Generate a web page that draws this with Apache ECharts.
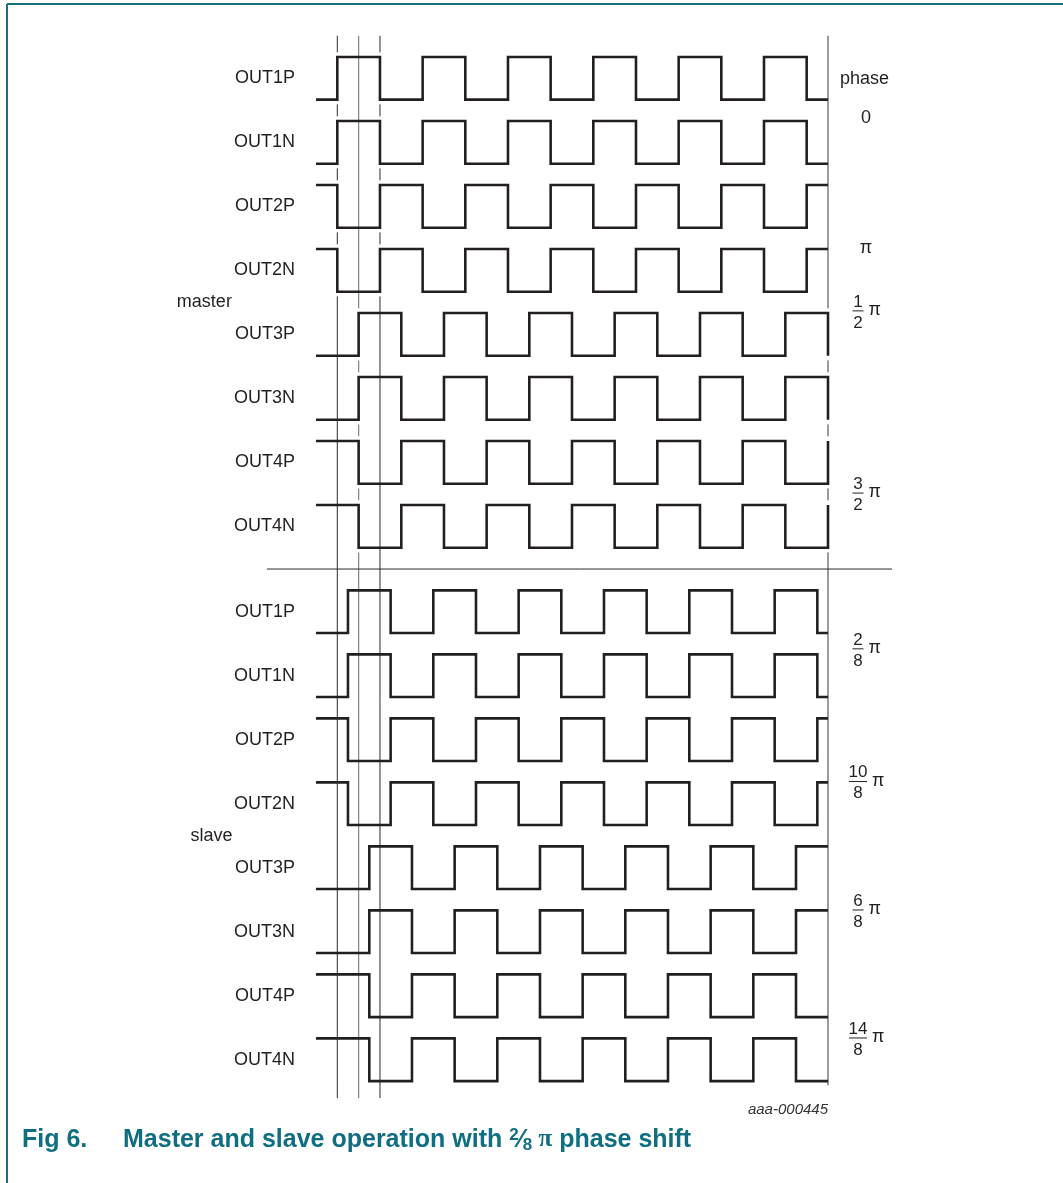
<!DOCTYPE html>
<html>
<head>
<meta charset="utf-8">
<script src="https://cdn.jsdelivr.net/npm/echarts@6/dist/echarts.min.js"></script>
<style>
  html, body { margin: 0; padding: 0; background: #fff; }
  #chart { width: 1063px; height: 1183px; }
</style>
</head>
<body>
<div id="chart"></div>
<script>
// nombres de las salidas (igual en master y slave)
const nombres = ['OUT1P', 'OUT1N', 'OUT2P', 'OUT2N', 'OUT3P', 'OUT3N', 'OUT4P', 'OUT4N'];

// nivel inicial de cada salida (0 = bajo, 1 = alto)
const inicioMaster = [0, 0, 1, 1, 0, 0, 1, 1];
const inicioSlave = [0, 0, 1, 1, 0, 0, 1, 1];

// instantes de los flancos (en medios periodos)
const flancos0 = [0, 1, 2, 3, 4, 5, 6, 7, 8, 9, 10, 11];
const flancos05 = [0.5, 1.5, 2.5, 3.5, 4.5, 5.5, 6.5, 7.5, 8.5, 9.5, 10.5, 11.5];
const flancos025 = [0.25, 1.25, 2.25, 3.25, 4.25, 5.25, 6.25, 7.25, 8.25, 9.25, 10.25, 11.25];
const flancos075 = [0.75, 1.75, 2.75, 3.75, 4.75, 5.75, 6.75, 7.75, 8.75, 9.75, 10.75];

const flancosMaster = [flancos0, flancos0, flancos0, flancos0, flancos05, flancos05, flancos05, flancos05];
const flancosSlave = [flancos025, flancos025, flancos025, flancos025, flancos075, flancos075, flancos075, flancos075];

const tInicio = -0.5;
const tFin = 11.5;

// lineas verticales de referencia
const guias = [0, 0.5, 1];

// etiquetas de fase a la derecha
const fasesTexto = ['phase', '0', 'π'];
const fasesFraccion = [['1', '2'], ['3', '2'], ['2', '8'], ['10', '8'], ['6', '8'], ['14', '8']];

// ---- layout ----
const UNIDAD = 42.67;
const X0 = 337.3;   // pixel de t = 0
const Y1 = 57;      // pixel de nivel 1 de la primera fila
const PASO = 1.5;   // separacion entre filas
const SLAVE_OFF = 12.5;

const posFasesTexto = [0.48, -0.43, -3.48];
const posFasesFraccion = [-4.95, -9.22, -12.87, -15.98, -18.99, -21.99];

const chartDom = document.getElementById('chart');
const myChart = echarts.init(chartDom);

const xMin = -2, xMax = 13, yMin = -24, yMax = 1.5;

// construir filas
const filas = [];
nombres.forEach((n, i) => {
    filas.push({ nombre: n, base: -PASO * i, inicio: inicioMaster[i], flancos: flancosMaster[i] });
});
nombres.forEach((n, i) => {
    filas.push({ nombre: n, base: -SLAVE_OFF - PASO * i, inicio: inicioSlave[i], flancos: flancosSlave[i] });
});

function ondaDatos(fila) {
    let nivel = fila.inicio;
    const datos = [[tInicio, fila.base + nivel]];
    fila.flancos.forEach(t => {
        datos.push([t, fila.base + nivel]);
        nivel = 1 - nivel;
        datos.push([t, fila.base + nivel]);
    });
    datos.push([tFin, fila.base + nivel]);
    return datos;
}

// segmentos de una guia, cortada donde coincide con un flanco
function segmentosGuia(t, arriba, abajo) {
    const huecos = [];
    filas.forEach(f => {
        if (f.flancos.indexOf(t) >= 0) {
            huecos.push([f.base + 1 + 0.11, f.base - 0.11]);
        }
    });
    const segs = [];
    let actual = arriba;
    huecos.forEach(h => {
        if (h[0] < actual) {
            segs.push([actual, h[0]]);
        }
        actual = Math.min(actual, h[1]);
    });
    segs.push([actual, abajo]);
    return segs;
}

const series = [];

// guias
const estilosGuia = [
    { color: '#2a2a2a', width: 1 },
    { color: '#8a8a8a', width: 1.3 },
    { color: '#2a2a2a', width: 1 }
];
guias.forEach((g, i) => {
    segmentosGuia(g, yMax, -23.4).forEach(s => {
        series.push({
            type: 'line', symbol: 'none', silent: true, z: 1,
            lineStyle: estilosGuia[i],
            data: [[g, s[0]], [g, s[1]]]
        });
    });
});
segmentosGuia(tFin, yMax, -23.1).forEach(s => {
    series.push({
        type: 'line', symbol: 'none', silent: true, z: 1,
        lineStyle: { color: '#3a3a3a', width: 1 },
        data: [[tFin, s[0]], [tFin, s[1]]]
    });
});

// separador master / slave
series.push({
    type: 'line', symbol: 'none', silent: true, z: 1,
    lineStyle: { color: '#2a2a2a', width: 1 },
    data: [[-1.65, -11], [xMax, -11]]
});

// ondas
filas.forEach(f => {
    series.push({
        type: 'line', symbol: 'none', z: 3,
        lineStyle: { color: '#231f20', width: 2.6, join: 'miter', cap: 'butt' },
        data: ondaDatos(f)
    });
});

const option = {
    animation: false,
    grid: {
        left: X0 + xMin * UNIDAD,
        width: (xMax - xMin) * UNIDAD,
        top: Y1 - (yMax - 1) * UNIDAD,
        height: (yMax - yMin) * UNIDAD
    },
    xAxis: { type: 'value', min: xMin, max: xMax, show: false },
    yAxis: { type: 'value', min: yMin, max: yMax, show: false },
    series: series
};

myChart.setOption(option);

// textos y elementos graficos
const px = (t, v) => myChart.convertToPixel({ gridIndex: 0 }, [t, v]);
const graficos = [];
const fuente = 'Liberation Sans';
const tinta = '#231f20';
const xDer = px(tFin, 0)[0];

// marco
graficos.push({ type: 'line', shape: { x1: 7, y1: 4, x2: 1063, y2: 4 }, style: { stroke: '#16707f', lineWidth: 2 } });
graficos.push({ type: 'line', shape: { x1: 7, y1: 4, x2: 7, y2: 1183 }, style: { stroke: '#16707f', lineWidth: 2 } });

// nombres de las salidas
filas.forEach(f => {
    const p = px(tInicio, f.base + 0.5);
    graficos.push({
        type: 'text', x: p[0] - 21, y: p[1],
        style: { text: f.nombre, fill: tinta, font: '18px ' + fuente, align: 'right', verticalAlign: 'middle' }
    });
});

// phase, 0, pi
fasesTexto.forEach((txt, i) => {
    const y = px(0, posFasesTexto[i])[1];
    const esPhase = i === 0;
    graficos.push({
        type: 'text',
        x: esPhase ? xDer + 12 : xDer + 38,
        y: y,
        style: {
            text: txt, fill: tinta, font: '18px ' + fuente,
            align: esPhase ? 'left' : 'center', verticalAlign: 'middle'
        }
    });
});

// fracciones
fasesFraccion.forEach((fr, i) => {
    const y = px(0, posFasesFraccion[i])[1];
    const cx = xDer + 30;
    const ancho = fr[0].length > 1 ? 18 : 11;
    graficos.push({
        type: 'text', x: cx, y: y - 9,
        style: { text: fr[0], fill: tinta, font: '17px ' + fuente, align: 'center', verticalAlign: 'middle' }
    });
    graficos.push({
        type: 'line', shape: { x1: cx - ancho / 2, y1: y, x2: cx + ancho / 2, y2: y },
        style: { stroke: tinta, lineWidth: 1 }
    });
    graficos.push({
        type: 'text', x: cx, y: y + 12,
        style: { text: fr[1], fill: tinta, font: '17px ' + fuente, align: 'center', verticalAlign: 'middle' }
    });
    graficos.push({
        type: 'text', x: cx + ancho / 2 + 5, y: y - 1,
        style: { text: 'π', fill: tinta, font: '18px ' + fuente, align: 'left', verticalAlign: 'middle' }
    });
});

// master / slave
const pMaster = px(-3.76, -4.75);
const pSlave = px(-3.44, -17.25);
graficos.push({ type: 'text', x: pMaster[0], y: pMaster[1], style: { text: 'master', fill: tinta, font: '18px ' + fuente, verticalAlign: 'middle' } });
graficos.push({ type: 'text', x: pSlave[0], y: pSlave[1], style: { text: 'slave', fill: tinta, font: '18px ' + fuente, verticalAlign: 'middle' } });

// codigo de figura
const pCodigo = px(tFin, -23.68);
graficos.push({
    type: 'text', x: pCodigo[0], y: pCodigo[1],
    style: { text: 'aaa-000445', fill: '#333', font: 'italic 15px ' + fuente, align: 'right', verticalAlign: 'middle' }
});

// titulo
const azul = '#0f6e80';
graficos.push({
    type: 'text', x: 22, y: 1140,
    style: { text: 'Fig 6.', fill: azul, font: 'bold 25px ' + fuente, verticalAlign: 'middle' }
});
graficos.push({
    type: 'text', x: 123, y: 1140,
    style: {
        text: '{a|Master and slave operation with }{sup|2}{a|⁄}{sub|8}{pi| π}{a| phase shift}',
        verticalAlign: 'middle',
        rich: {
            a: { fill: azul, font: 'bold 25px ' + fuente, lineHeight: 32, verticalAlign: 'middle' },
            sup: { fill: azul, font: 'bold 17px ' + fuente, lineHeight: 32, verticalAlign: 'top', padding: [3, 0, 0, 0] },
            sub: { fill: azul, font: 'bold 17px ' + fuente, lineHeight: 32, verticalAlign: 'bottom', padding: [0, 0, 2, 0] },
            pi: { fill: azul, font: 'bold 25px Liberation Serif', lineHeight: 32, verticalAlign: 'middle' }
        }
    }
});

myChart.setOption({ graphic: graficos });
</script>
</body>
</html>
